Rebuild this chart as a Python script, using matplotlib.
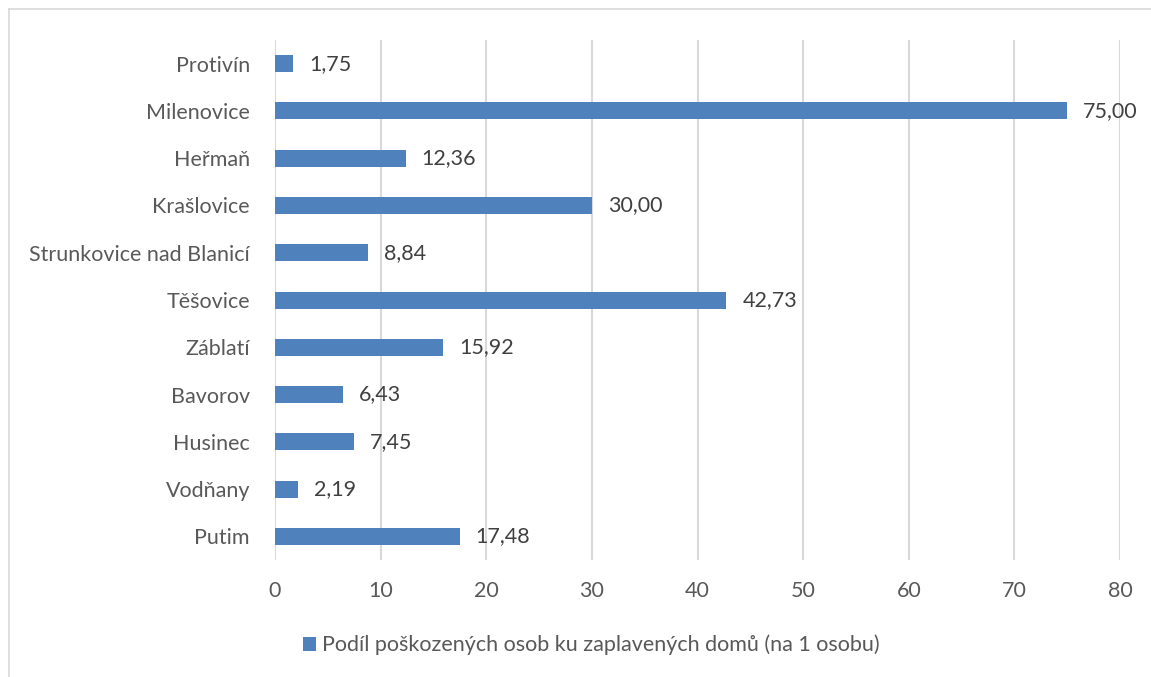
import matplotlib.pyplot as plt
from matplotlib.lines import Line2D

# data (top to bottom as shown)
towns = ["Protivín", "Milenovice", "Heřmaň", "Krašlovice", "Strunkovice nad Blanicí",
         "Těšovice", "Záblatí", "Bavorov", "Husinec", "Vodňany", "Putim"]
ratios = [1.75, 75.00, 12.36, 30.00, 8.84, 42.73, 15.92, 6.43, 7.45, 2.19, 17.48]
series_name = "Podíl poškozených osob ku zaplavených domů (na 1 osobu)"
xticks = [0, 10, 20, 30, 40, 50, 60, 70, 80]

plt.rcParams['font.family'] = ['Lato', 'DejaVu Sans']
txt = '#595959'
blue = '#4f81bd'
fs = 15.5

fig = plt.figure(figsize=(11.51, 6.77), dpi=100)
ax = fig.add_axes([0.2389, 0.1728, 0.7342, 0.7681])

pos = list(range(len(towns)))
bars = ax.barh(pos, ratios, height=0.36, color=blue, label=series_name, zorder=3)
ax.set_ylim(len(towns) - 0.5, -0.5)
ax.set_xlim(0, 80)
ax.set_xticks(xticks)
ax.set_yticks(pos)
ax.set_yticklabels(towns)
ax.tick_params(length=0, labelsize=fs, colors=txt)
ax.tick_params(axis='x', pad=15)
ax.tick_params(axis='y', pad=18)
ax.grid(axis='x', color='#d9d9d9', linewidth=1.5, zorder=0)
for s in ax.spines.values():
    s.set_visible(False)

for b, v in zip(bars, ratios):
    ax.annotate(f"{v:.2f}".replace('.', ','), (b.get_width(), b.get_y() + b.get_height() / 2),
                xytext=(11.5, 0), textcoords='offset points', va='center', ha='left',
                fontsize=fs, color='#404040')

fig.legend(handles=[bars], labels=[series_name], loc='center', bbox_to_anchor=(0.514, 0.047),
           frameon=False, fontsize=fs, labelcolor=txt, handlelength=0.6, handleheight=0.6,
           handletextpad=0.3)

# chart area border (top and left visible)
fig.add_artist(Line2D([9 / 1151, 1], [1 - 9 / 677, 1 - 9 / 677], color='#d9d9d9', lw=1.2))
fig.add_artist(Line2D([9 / 1151, 9 / 1151], [0, 1 - 9 / 677], color='#d9d9d9', lw=1.2))

fig.savefig("out.png", dpi=100)
